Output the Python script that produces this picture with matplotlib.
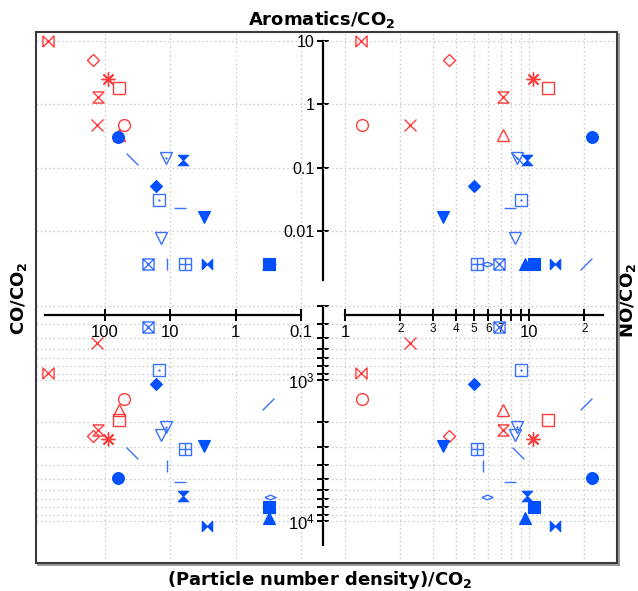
import matplotlib
matplotlib.use('Agg')
import matplotlib.pyplot as plt
from matplotlib.path import Path
from matplotlib.patches import Rectangle
from matplotlib.lines import Line2D
from matplotlib import ticker

plt.rcParams['font.family'] = ['Liberation Sans', 'DejaVu Sans']
plt.rcParams['mathtext.fontset'] = 'custom'
plt.rcParams['mathtext.rm'] = 'Liberation Sans'
plt.rcParams['mathtext.bf'] = 'DejaVu Sans:bold'

# ---------------- data (one entry per sample) ----------------
sample_ids = ['R-bowtie', 'R-diamond', 'R-asterisk', 'R-square', 'R-hourglass', 'R-x',
              'R-circle', 'R-triangle',
              'B-slash', 'B-thin-diamond', 'B-box-x', 'B-box-plus', 'B-vline', 'B-hline',
              'B-backslash', 'B-square-dot', 'B-tri-down-dot', 'B-tri-down',
              'B-circle', 'B-hourglass', 'B-diamond', 'B-tri-down-filled', 'B-bowtie',
              'B-tri-up', 'B-square']
co_ratio = [745, 153, 90, 61, 126, 132, 52, 61,
            0.32, 0.30, 22, 6.0, 11.2, 7.1, 39, 14.9, 11.6, 13.9,
            63, 6.4, 16.6, 3.05, 2.75, 0.31, 0.31]
no_ratio = [1.22, 3.67, 10.5, 12.7, 7.2, 2.26, 1.24, 7.2,
            20.4, 5.9, 6.9, 5.2, 5.6, 7.9, 8.7, 9.05, 8.6, 8.4,
            22, 9.75, 5.0, 3.41, 13.8, 9.5, 10.6]
aromatics_ratio = [10, 5.0, 2.5, 1.8, 1.3, 0.47, 0.47, 0.33,
                   0.003, 0.003, 0.003, 0.003, 0.003, 0.023, 0.137, 0.031, 0.142, 0.0078,
                   0.30, 0.13, 0.051, 0.0166, 0.003, 0.003, 0.003]
particle_ratio = [892, 2496, 2620, 1922, 2262, 547, 1364, 1632,
                  1480, 6768, 421, 3088, 4072, 5290, 3293, 848, 2154, 2455,
                  4953, 6647, 1067, 2937, 10850, 9523, 7948]

co_ticks = [100, 10, 1, 0.1]
co_labels = ['100', '10', '1', '0.1']
arom_ticks = [0.01, 0.1, 1, 10]
arom_labels = ['0.01', '0.1', '1', '10']
no_major = [1, 10]
no_major_labels = ['1', '10']
no_minor = [2, 3, 4, 5, 6, 7, 8, 9, 20]
no_minor_labels = ['2', '3', '4', '5', '6', '7', '', '', '2']
part_major = [1e3, 1e4]
part_minor = [300, 400, 500, 600, 700, 800, 900, 2000, 3000, 4000, 5000, 6000, 7000, 8000, 9000]

# ---------------- styles ----------------
RED = '#ff3b3b'
BLUE = '#0050ff'
LBLUE = '#3a72ff'

M, L = Path.MOVETO, Path.LINETO
bowtie = Path([(-1, -1), (-1, 1), (1, -1), (1, 1), (-1, -1)])
hourglass = Path([(-1, 1), (1, 1), (-1, -1), (1, -1), (-1, 1)])
box_x = Path([(-1, -1), (1, -1), (1, 1), (-1, 1), (-1, -1), (-1, -1), (1, 1), (-1, 1), (1, -1)],
             [M, L, L, L, L, M, L, M, L])
box_plus = Path([(-1, -1), (1, -1), (1, 1), (-1, 1), (-1, -1), (0, -1), (0, 1), (-1, 0), (1, 0)],
                [M, L, L, L, L, M, L, M, L])
slash = Path([(-1, -1), (1, 1)], [M, L])
bslash = Path([(-1, 1), (1, -1)], [M, L])
thin_diamond = Path([(-1, 0), (0, 0.42), (1, 0), (0, -0.42), (-1, 0)])

# (marker, color, filled, size, dot)
styles = [
    (bowtie, RED, False, 8, False),
    ('D', RED, False, 6.5, False),
    ((8, 2, 0), RED, False, 10, False),
    ('s', RED, False, 8, False),
    (hourglass, RED, False, 8, False),
    ('x', RED, False, 8, False),
    ('o', RED, False, 8.5, False),
    ('^', RED, False, 8.5, False),
    (slash, LBLUE, False, 8.5, False),
    (thin_diamond, LBLUE, False, 8, False),
    (box_x, LBLUE, False, 8, False),
    (box_plus, LBLUE, False, 8, False),
    ('|', LBLUE, False, 8, False),
    ('_', LBLUE, False, 8, False),
    (bslash, LBLUE, False, 8.5, False),
    ('s', LBLUE, False, 8, True),
    ('v', LBLUE, False, 8.5, True),
    ('v', LBLUE, False, 8.5, False),
    ('o', BLUE, True, 8.5, False),
    (hourglass, BLUE, True, 7.5, False),
    ('D', BLUE, True, 6.5, False),
    ('v', BLUE, True, 8.5, False),
    (bowtie, BLUE, True, 7.5, False),
    ('^', BLUE, True, 8.5, False),
    ('s', BLUE, True, 8, False),
]

W, H = 638, 591
fig = plt.figure(figsize=(W / 100, H / 100), dpi=100)

X0, XM, X1 = 36, 323, 617
Y0, YM, Y1 = 32, 290, 563

def fx(px):
    return px / W

def fy(py):
    return 1 - py / H

ax_ul = fig.add_axes([fx(X0), fy(YM), (XM - X0) / W, (YM - Y0) / H])
ax_ur = fig.add_axes([fx(XM), fy(YM), (X1 - XM) / W, (YM - Y0) / H])
ax_ll = fig.add_axes([fx(X0), fy(Y1), (XM - X0) / W, (Y1 - YM) / H])
ax_lr = fig.add_axes([fx(XM), fy(Y1), (X1 - XM) / W, (Y1 - YM) / H])

CO_LIM = (1138, 0.046)
NO_LIM = (0.759, 30.08)
AR_LIM = (0.00117, 13.87)
PA_LIM = (19870, 230)

GRID = dict(color='#c9c9c9', linestyle=(0, (1.2, 2.2)), linewidth=0.9)
AXLW = 1.6
TICK = dict(direction='inout', length=9, width=1.4)

for ax in (ax_ul, ax_ur, ax_ll, ax_lr):
    ax.set_xscale('log')
    ax.set_yscale('log')
    ax.set_facecolor('none')
    for s in ax.spines.values():
        s.set_visible(False)

# upper-left: CO vs aromatics
ax_ul.set_xlim(*CO_LIM)
ax_ul.set_ylim(*AR_LIM)
ax_ul.xaxis.set_major_locator(ticker.FixedLocator(co_ticks))
ax_ul.xaxis.set_minor_locator(ticker.NullLocator())
ax_ul.yaxis.set_major_locator(ticker.FixedLocator(arom_ticks))
ax_ul.yaxis.set_major_formatter(ticker.FixedFormatter(arom_labels))
ax_ul.yaxis.set_minor_locator(ticker.NullLocator())
ax_ul.spines['left'].set_visible(True)
ax_ul.spines['left'].set_position(('axes', 1.0))
ax_ul.spines['left'].set_bounds(0.00168, 10)
ax_ul.spines['left'].set_linewidth(AXLW)
ax_ul.tick_params(axis='x', length=0, labelbottom=False)
ax_ul.tick_params(axis='y', labelsize=11.5, pad=1.5, **TICK)
ax_ul.grid(True, which='major', **GRID)

# upper-right: NO vs aromatics
ax_ur.set_xlim(*NO_LIM)
ax_ur.set_ylim(*AR_LIM)
ax_ur.xaxis.set_major_locator(ticker.FixedLocator(no_major))
ax_ur.xaxis.set_minor_locator(ticker.FixedLocator(no_minor))
ax_ur.yaxis.set_major_locator(ticker.FixedLocator(arom_ticks))
ax_ur.yaxis.set_minor_locator(ticker.NullLocator())
ax_ur.tick_params(which='both', length=0, labelbottom=False, labelleft=False)
ax_ur.grid(True, which='both', axis='x', **GRID)
ax_ur.grid(True, which='major', axis='y', **GRID)

# lower-left: CO vs particle number density
ax_ll.set_xlim(*CO_LIM)
ax_ll.set_ylim(*PA_LIM)
ax_ll.xaxis.set_major_locator(ticker.FixedLocator(co_ticks))
ax_ll.xaxis.set_major_formatter(ticker.FixedFormatter(co_labels))
ax_ll.xaxis.set_minor_locator(ticker.NullLocator())
ax_ll.yaxis.set_major_locator(ticker.FixedLocator(part_major))
ax_ll.yaxis.set_major_formatter(ticker.LogFormatterSciNotation())
ax_ll.yaxis.set_minor_locator(ticker.FixedLocator(part_minor))
ax_ll.yaxis.set_minor_formatter(ticker.NullFormatter())
ax_ll.spines['left'].set_visible(True)
ax_ll.spines['left'].set_position(('axes', 1.0))
ax_ll.spines['left'].set_bounds(300, 14800)
ax_ll.spines['left'].set_linewidth(AXLW)
ax_ll.spines['bottom'].set_visible(True)
ax_ll.spines['bottom'].set_position(('axes', (Y1 - 315) / (Y1 - YM)))
ax_ll.spines['bottom'].set_bounds(828, 0.1)
ax_ll.spines['bottom'].set_linewidth(AXLW)
ax_ll.tick_params(axis='x', labelsize=12, pad=3, **TICK)
ax_ll.tick_params(axis='y', which='both', labelsize=12, pad=1.5, **TICK)
ax_ll.grid(True, which='major', axis='x', **GRID)
ax_ll.grid(True, which='both', axis='y', **GRID)

# lower-right: NO vs particle number density
ax_lr.set_xlim(*NO_LIM)
ax_lr.set_ylim(*PA_LIM)
ax_lr.xaxis.set_major_locator(ticker.FixedLocator(no_major))
ax_lr.xaxis.set_major_formatter(ticker.FixedFormatter(no_major_labels))
ax_lr.xaxis.set_minor_locator(ticker.FixedLocator(no_minor))
ax_lr.xaxis.set_minor_formatter(ticker.FixedFormatter(no_minor_labels))
ax_lr.yaxis.set_major_locator(ticker.FixedLocator(part_major))
ax_lr.yaxis.set_minor_locator(ticker.FixedLocator(part_minor))
ax_lr.spines['bottom'].set_visible(True)
ax_lr.spines['bottom'].set_position(('axes', (Y1 - 315) / (Y1 - YM)))
ax_lr.spines['bottom'].set_bounds(1, 25.2)
ax_lr.spines['bottom'].set_linewidth(AXLW)
ax_lr.tick_params(axis='x', which='major', labelsize=12, pad=3, **TICK)
ax_lr.tick_params(axis='x', which='minor', labelsize=8.5, pad=1.5, **TICK)
ax_lr.tick_params(axis='y', which='both', length=0, labelleft=False)
ax_lr.grid(True, which='both', **GRID)

# ---------------- markers ----------------
pairs = [
    (ax_ul, co_ratio, aromatics_ratio),
    (ax_ur, no_ratio, aromatics_ratio),
    (ax_ll, co_ratio, particle_ratio),
    (ax_lr, no_ratio, particle_ratio),
]
for ax, xs, ys in pairs:
    for i, (mk, col, filled, ms, dot) in enumerate(styles):
        ax.plot([xs[i]], [ys[i]], linestyle='none', marker=mk, markersize=ms,
                markeredgecolor=col, markerfacecolor=(col if filled else 'none'),
                markeredgewidth=(1.0 if not filled else 0.8), zorder=3)
        if dot:
            ax.plot([xs[i]], [ys[i]], linestyle='none', marker='o', markersize=1.3,
                    markeredgecolor=col, markerfacecolor=col, markeredgewidth=0.3, zorder=3)

# ---------------- frame ----------------
fig.add_artist(Rectangle((fx(X0), fy(Y1)), (X1 - X0) / W, (Y1 - Y0) / H,
                         transform=fig.transFigure, fill=False, edgecolor='#3a3a3a',
                         linewidth=1.5, zorder=10))
fig.add_artist(Line2D([fx(X1 + 1.8), fx(X1 + 1.8)], [fy(Y0 + 2), fy(Y1 + 1.8)],
                      transform=fig.transFigure, color='#8a8a8a', linewidth=1.2, zorder=9))
fig.add_artist(Line2D([fx(X0 + 2), fx(X1 + 1.8)], [fy(Y1 + 1.8), fy(Y1 + 1.8)],
                      transform=fig.transFigure, color='#8a8a8a', linewidth=1.2, zorder=9))

# ---------------- titles ----------------
TFONT = dict(fontsize=13, fontweight='bold', family='DejaVu Sans', ha='center', va='center')
fig.text(fx(322), fy(19), r'Aromatics/CO$_\mathbf{2}$', **TFONT)
fig.text(fx(320), fy(580), r'(Particle number density)/CO$_\mathbf{2}$', **TFONT)
fig.text(fx(19), fy(298), r'CO/CO$_\mathbf{2}$', rotation=90, **TFONT)
fig.text(fx(628), fy(300), r'NO/CO$_\mathbf{2}$', rotation=90, **TFONT)

fig.savefig('out.png', dpi=100)
